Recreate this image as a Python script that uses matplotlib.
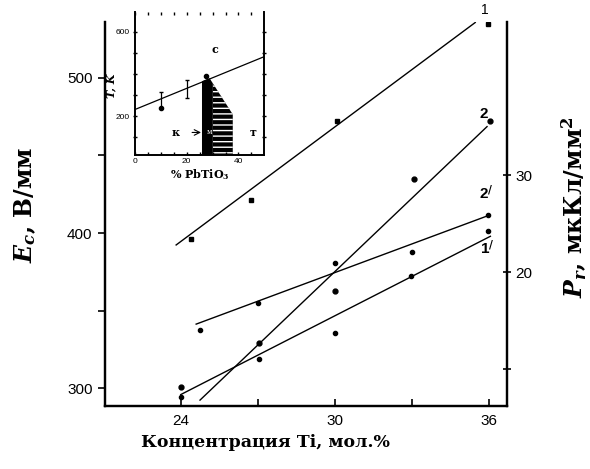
"""Ec and Pr vs Ti concentration, with PbTiO3 phase diagram inset."""
import matplotlib
matplotlib.use("Agg")
import matplotlib.pyplot as plt
from matplotlib.ticker import FixedLocator

plt.rcParams["font.family"] = ["DejaVu Serif"]
plt.rcParams["mathtext.fontset"] = "custom"
plt.rcParams["mathtext.rm"] = "DejaVu Serif:bold"
plt.rcParams["mathtext.it"] = "DejaVu Serif:bold:italic"
plt.rcParams["mathtext.bf"] = "DejaVu Serif:bold"

# --- main data ---
# curve 1: Ec, V/mm (left axis)
x1 = [24.4, 26.75, 30.1, 35.95]
e1 = [396, 421, 472.5, 534.5]
fit1_x = [23.82, 35.47]
fit1_y = [392.3, 535.7]

# curve 2: Ec, V/mm (left axis)
x2 = [24.0, 27.03, 30.02, 33.1, 36.06]
e2 = [300.8, 329.2, 362.8, 434.8, 472.5]
fit2_x = [24.75, 35.93]
fit2_y = [292.3, 468.6]

# curve 1': Pr (right axis)
x1p = [24.0, 27.05, 30.02, 32.97, 35.97]
p1p = [7.1, 11.0, 13.7, 19.6, 24.2]
fit1p_x = [24.0, 36.06]
fit1p_y = [7.3, 23.7]

# curve 2': Pr (right axis)
x2p = [24.75, 27.0, 30.02, 33.0, 35.97]
p2p = [14.0, 16.8, 20.9, 22.1, 25.95]
fit2p_x = [24.6, 35.93]
fit2p_y = [14.6, 25.8]

# --- inset: phase diagram T(K) vs % PbTiO3 ---
tc_x = [0, 50]
tc_T = [231, 482]
err_x = [10, 20.3]
err_lo = [240, 287]
err_hi = [313, 369]
pts_x = [10, 27.3]
pts_T = [240, 391]
mpb_solid_x = [25.9, 25.9, 28.8, 30.1, 30.1]
mpb_solid_T = [15, 365, 380, 355, 15]
mpb_hatch_x = [30.1, 30.1, 37.8, 37.8]
mpb_hatch_T = [15, 355, 208, 15]

fig = plt.figure(figsize=(5.9, 4.69), dpi=100)
ax = fig.add_axes([0.178, 0.134, 0.681, 0.819])
ax2 = ax.twinx()

lw = 1.0
ax.plot(fit1_x, fit1_y, color="black", lw=lw)
ax.plot(x1, e1, "s", color="black", ms=3.5)
ax.plot(fit2_x, fit2_y, color="black", lw=lw)
ax.plot(x2, e2, "o", color="black", ms=3.5)
ax2.plot(fit1p_x, fit1p_y, color="black", lw=lw)
ax2.plot(x1p, p1p, "o", color="black", ms=3)
ax2.plot(fit2p_x, fit2p_y, color="black", lw=lw)
ax2.plot(x2p, p2p, "o", color="black", ms=3)

ax.set_xlim(21.05, 36.7)
ax.set_ylim(288.4, 536)
ax2.set_ylim(6.1, 45.9)

ax.set_xticks([24, 30, 36])
ax.xaxis.set_minor_locator(FixedLocator([27, 33]))
ax.set_yticks([300, 400, 500])
ax.yaxis.set_minor_locator(FixedLocator([350, 450]))
ax2.set_yticks([10, 20, 30])
ax2.set_yticklabels(["", "20", "30"])

ax.spines["top"].set_visible(False)
ax2.spines["top"].set_visible(False)
for a in (ax, ax2):
    for s in a.spines.values():
        s.set_linewidth(1.6)

ax.tick_params(axis="x", which="both", direction="in", length=5, width=1.2,
               labelsize=11, pad=6)
ax.tick_params(axis="y", which="both", direction="out", length=5, width=1.2,
               labelsize=11, pad=4)
ax2.tick_params(axis="y", which="both", direction="inout", length=6, width=1.2,
                labelsize=11, pad=3)
for lab in ax.get_xticklabels() + ax.get_yticklabels() + ax2.get_yticklabels():
    lab.set_family("Liberation Sans")

ax.set_xlabel("Концентрация Ti, мол.%", fontsize=12.5, fontweight="bold", va="center")
ax.xaxis.set_label_coords(0.40, -0.094)
ax.set_ylabel("$E_c$, В/мм", fontsize=17, fontweight="bold", va="center")
ax.yaxis.set_label_coords(-0.198, 0.525)
ax2.set_ylabel("$P_r$, мкКл/мм$^2$", fontsize=17, fontweight="bold", va="center")
ax2.yaxis.set_label_coords(1.167, 0.517)

# curve numbers
ax.text(35.85, 544, "1", fontsize=10, family="Liberation Sans", ha="center",
        va="center", clip_on=False)
ax.text(35.8, 477, "2", fontsize=11, fontweight="bold", family="Liberation Sans",
        ha="center", va="center")
ax2.text(35.9, 28.2, "2$^{/}$", fontsize=11, fontweight="bold", ha="center", va="center")
ax2.text(35.95, 22.5, "1$^{/}$", fontsize=11, fontweight="bold", ha="center", va="center")
for t in ax2.texts:
    t.set_family("Liberation Sans")

# --- inset ---
ins = fig.add_axes([0.2288, 0.6695, 0.2192, 0.3055])
ins.fill(mpb_hatch_x, mpb_hatch_T, facecolor="black", edgecolor="white",
         hatch="---", lw=0)
ins.fill(mpb_solid_x, mpb_solid_T, facecolor="black", lw=0)
ins.plot(tc_x, tc_T, color="black", lw=0.9)
err_mid = [(lo + hi) / 2 for lo, hi in zip(err_lo, err_hi)]
err_half = [(hi - lo) / 2 for lo, hi in zip(err_lo, err_hi)]
ins.errorbar(err_x, err_mid, yerr=err_half, fmt="none", ecolor="black",
             elinewidth=0.9, capsize=1.5)
ins.plot(pts_x, pts_T, "o", color="black", ms=3)

ins.set_xlim(0, 50)
ins.set_ylim(15, 695)
ins.set_xticks([0, 20, 40])
ins.xaxis.set_minor_locator(FixedLocator([5, 10, 15, 25, 30, 35, 45]))
ins.set_yticks([200, 600])
ins.yaxis.set_minor_locator(FixedLocator([100, 300, 400, 500]))
ins.spines["top"].set_visible(False)
for s in ["left", "bottom", "right"]:
    ins.spines[s].set_linewidth(1.4)
ins.tick_params(which="both", top=True, right=True, direction="in", length=2.5,
                width=1.0, labelsize=6, pad=2)
ins.tick_params(axis="y", which="both", direction="inout", length=3.5)
for lab in ins.get_xticklabels() + ins.get_yticklabels():
    lab.set_family("Liberation Sans")

ins.set_xlabel("% PbTiO$_3$", fontsize=8, fontweight="bold", labelpad=2)
ins.set_ylabel("T, K", fontsize=8, fontweight="bold", style="italic", va="center")
ins.yaxis.set_label_coords(-0.19, 0.48)

ins.text(30.8, 514, "с", fontsize=8, fontweight="bold", ha="center", va="center")
ins.text(15.8, 122, "к", fontsize=8, fontweight="bold", ha="center", va="center")
ins.text(45.8, 122, "т", fontsize=8, fontweight="bold", ha="center", va="center")
ins.annotate("", xy=(26.6, 122), xytext=(21.0, 122),
             arrowprops=dict(arrowstyle="->", lw=0.8, color="black"))
ins.text(28.9, 122, "м", fontsize=5, color="white", ha="center", va="center")

fig.savefig("out.png", dpi=100)
